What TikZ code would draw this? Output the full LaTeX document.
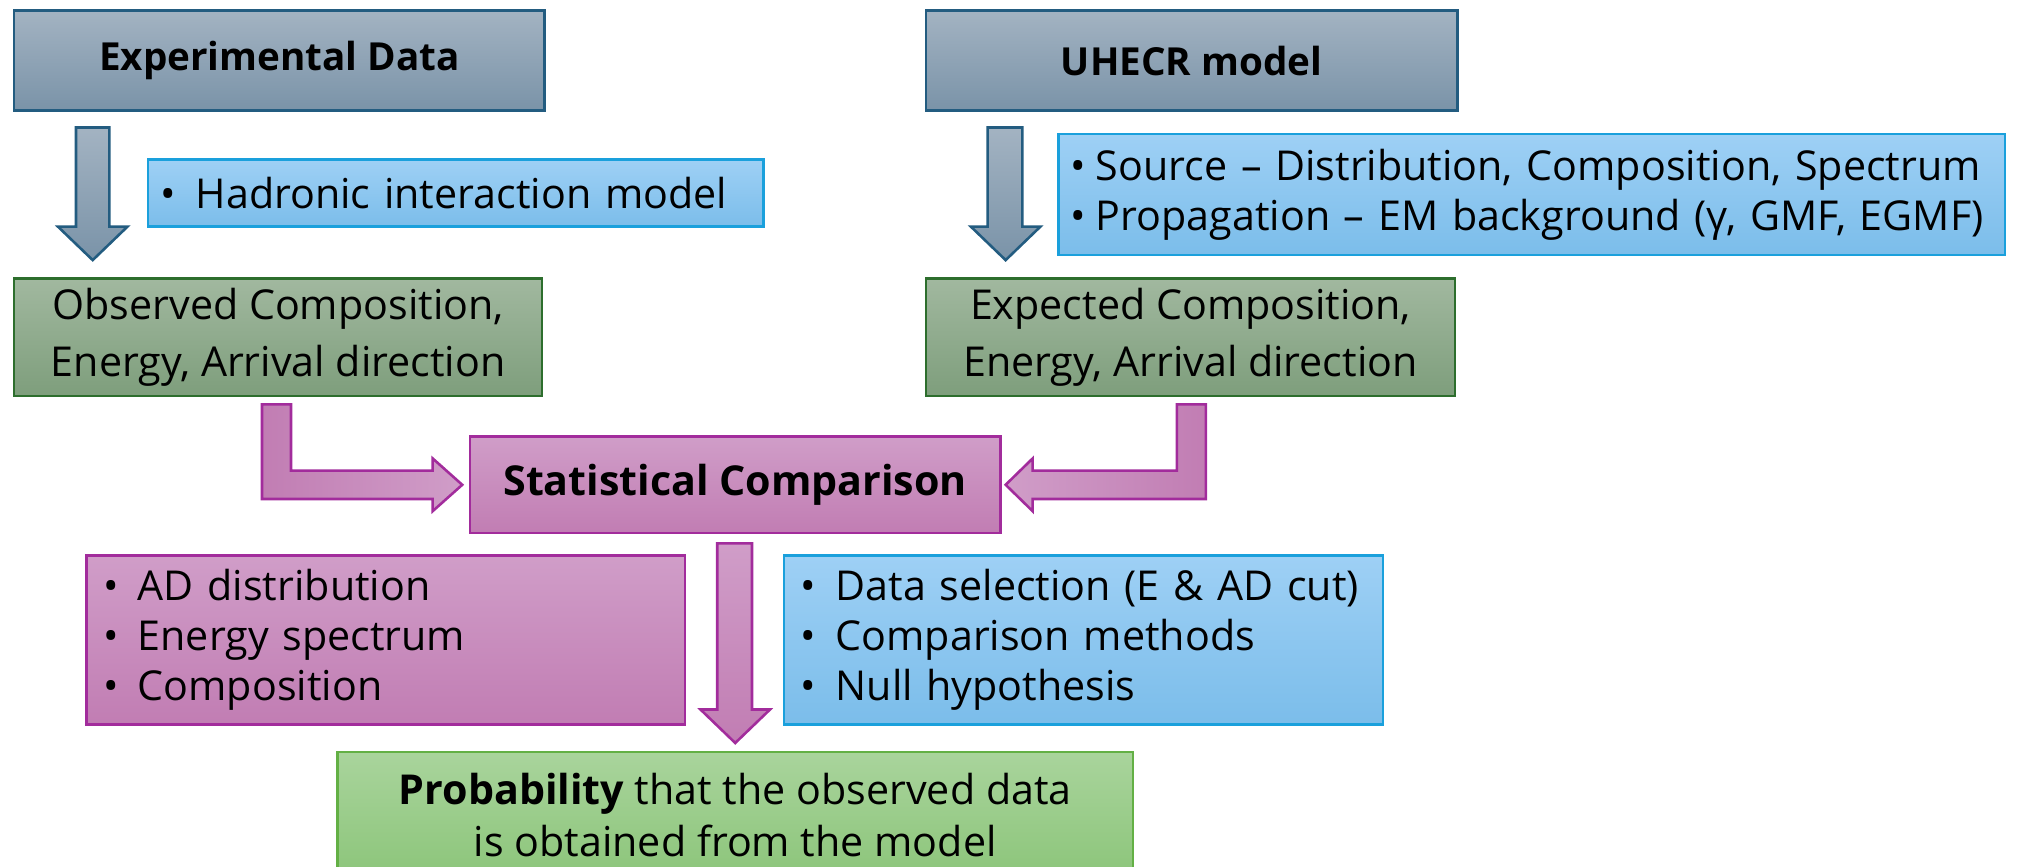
\documentclass[tikz,border=0pt]{standalone}
\usepackage{fontspec}
\setmainfont{Open Sans}
\usetikzlibrary{calc}

% palette
\definecolor{greyTop}{HTML}{A3B3C2}
\definecolor{greyBot}{HTML}{7A93A8}
\definecolor{greyLine}{HTML}{235C80}
\definecolor{blueTop}{HTML}{9ED0F5}
\definecolor{blueBot}{HTML}{7BBDEA}
\definecolor{blueLine}{HTML}{1AA0DC}
\definecolor{greenTop}{HTML}{A1B89F}
\definecolor{greenBot}{HTML}{7E9E7C}
\definecolor{greenLine}{HTML}{2D6E2D}
\definecolor{magTop}{HTML}{D09DC8}
\definecolor{magBot}{HTML}{C17DB3}
\definecolor{magLine}{HTML}{A22C9C}
\definecolor{lgTop}{HTML}{A9D49C}
\definecolor{lgBot}{HTML}{8CC57A}
\definecolor{lgLine}{HTML}{63B045}

\newcommand{\bul}{\makebox[27pt][l]{\textbullet}}

\begin{document}
\begin{tikzpicture}[x=1pt,y=-1pt,
  box/.style={draw, line width=2pt, inner sep=0pt, align=center,
    font=\fontsize{32}{44}\selectfont},
  title/.style={font=\fontsize{30}{36}\selectfont\bfseries},
  greybox/.style={box, draw=greyLine, top color=greyTop, bottom color=greyBot},
  bluebox/.style={box, draw=blueLine, top color=blueTop, bottom color=blueBot,
    align=left, font=\fontsize{32}{39}\selectfont},
  greenbox/.style={box, draw=greenLine, top color=greenTop, bottom color=greenBot},
  magbox/.style={box, draw=magLine, top color=magTop, bottom color=magBot},
  lgbox/.style={box, draw=lgLine, top color=lgTop, bottom color=lgBot,
    font=\fontsize{32}{41}\selectfont},
  greyarrow/.style={draw=greyLine, line width=2pt, line join=miter, top color=greyTop, bottom color=greyBot},
  magarrow/.style={draw=magLine, line width=2pt, line join=miter},
]
\useasboundingbox (0,0) rectangle (1568,673);

% source boxes
\node[greybox, title, minimum width=412pt, minimum height=78pt] (exp) at (217,47) {Experimental Data};
\node[greybox, title, minimum width=413pt, minimum height=78pt] (uhecr) at (925.5,47) {UHECR model};

% assumption boxes
\node[bluebox, minimum height=52pt, text width=458pt, inner xsep=10pt] (had) at (354,150)
  {\bul Hadronic interaction model};
\node[bluebox, minimum height=94pt, text width=717pt, inner xsep=9pt] (src) at (1189.5,151)
  {\makebox[20pt][l]{\textbullet}Source – Distribution, Composition, Spectrum\\
   \makebox[20pt][l]{\textbullet}Propagation – EM background (γ, GMF, EGMF)};

% observables
\node[greenbox, minimum width=410pt, minimum height=91pt] (obs) at (216,262)
  {Observed Composition,\\Energy, Arrival direction};
\node[greenbox, minimum width=411pt, minimum height=91pt] (expd) at (924.5,262)
  {Expected Composition,\\Energy, Arrival direction};

% comparison
\node[magbox, minimum width=412pt, minimum height=75pt,
  font=\fontsize{32}{36}\selectfont\bfseries] (stat) at (571,376.5)
  {Statistical Comparison};
\node[magbox, minimum height=131pt, text width=439pt, inner xsep=13pt, align=left,
  font=\fontsize{32}{39}\selectfont] (ad) at (299.5,497)
  {\bul AD distribution\\\bul Energy spectrum\\\bul Composition};
\node[bluebox, minimum height=131pt, text width=439pt, inner xsep=13pt] (sel) at (841.5,497)
  {\bul Data selection (E \& AD cut)\\\bul Comparison methods\\\bul Null hypothesis};

% result
\node[lgbox, minimum width=618pt, minimum height=98pt] (prob) at (571,633)
  {\textbf{Probability} that the observed data\\is obtained from the model};

% block arrows
\path[greyarrow] (59,99) -- (85,99) -- (85,176) -- (99,176) -- (72,202)
  -- (45,176) -- (59,176) -- cycle;
\path[greyarrow] (767,99) -- (794,99) -- (794,176) -- (808,176) -- (781,202)
  -- (754,176) -- (767,176) -- cycle;

\path[magarrow, left color=magBot, right color=magTop]
  (203.5,314) -- (226,314) -- (226,365.5) -- (336,365.5) -- (336,356)
  -- (359,376.5) -- (336,397) -- (336,387.5) -- (203.5,387.5) -- cycle;
\path[magarrow, left color=magTop, right color=magBot]
  (936.5,314) -- (914,314) -- (914,365.5) -- (802,365.5) -- (802,356)
  -- (781,376.5) -- (802,397) -- (802,387.5) -- (936.5,387.5) -- cycle;

\path[magarrow, top color=magTop, bottom color=magBot]
  (557,422) -- (584,422) -- (584,551) -- (598,551) -- (571,577)
  -- (544,551) -- (557,551) -- cycle;
\end{tikzpicture}
\end{document}
